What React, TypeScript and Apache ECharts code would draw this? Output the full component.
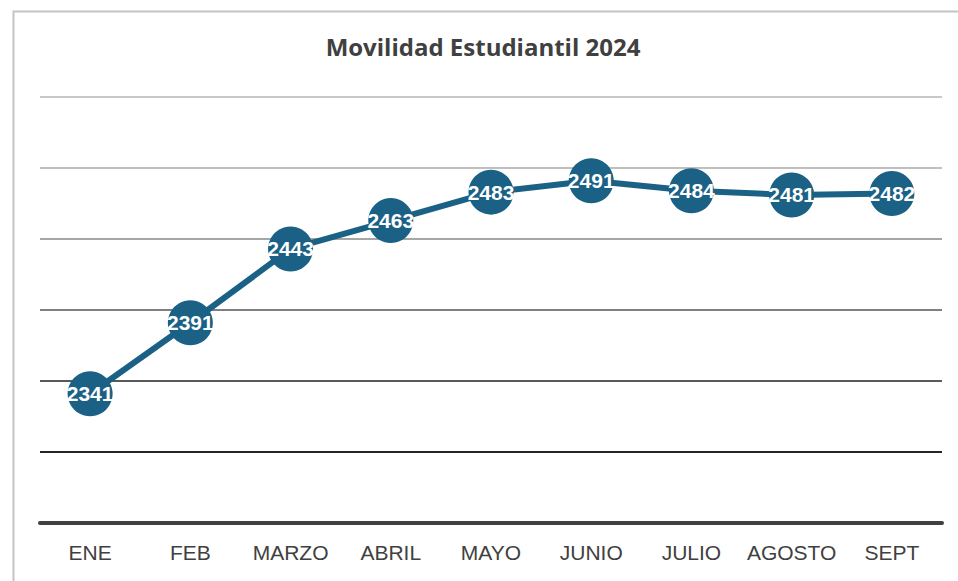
import React, { useEffect, useRef } from "react";
import * as echarts from "echarts";

const categories = ["ENE", "FEB", "MARZO", "ABRIL", "MAYO", "JUNIO", "JULIO", "AGOSTO", "SEPT"];
const values = [2341, 2391, 2443, 2463, 2483, 2491, 2484, 2481, 2482];
const yMin = 2250;
const yMax = 2550;
const yInterval = 50;
const title = "Movilidad Estudiantil 2024";

export default function App() {
  const ref = useRef<HTMLDivElement>(null);
  useEffect(() => {
    document.body.style.margin = "0";
    const chart = echarts.init(ref.current!, undefined, { renderer: "svg" });
    chart.setOption({
      animation: false,
      backgroundColor: "#ffffff",
      title: {
        text: title,
        left: 478,
        textAlign: "center",
        top: 29,
        textStyle: { fontFamily: "Open Sans", fontWeight: "bold", fontSize: 24, color: "#404040" },
      },
      graphic: [
        {
          type: "rect",
          left: 11,
          top: 9,
          shape: { x: 0, y: 0, width: 1000, height: 640 },
          style: { fill: "none", stroke: "#c4c4c4", lineWidth: 2 },
          silent: true,
        },
      ],
      grid: { left: 40, right: 16, top: 97, bottom: 58 },
      xAxis: {
        type: "category",
        data: categories,
        boundaryGap: true,
        axisLine: { lineStyle: { color: "#404040", width: 4 } },
        axisTick: { show: false },
        axisLabel: { interval: 0, fontSize: 21, color: "#404040", margin: 19, fontFamily: "Liberation Sans" },
      },
      yAxis: {
        type: "value",
        min: yMin,
        max: yMax,
        interval: yInterval,
        axisLabel: { show: false },
        axisLine: { show: false },
        axisTick: { show: false },
        splitLine: {
          lineStyle: {
            width: 2,
            color: ["#404040", "#262626", "#595959", "#808080", "#a6a6a6", "#bfbfbf", "#c8c8c8"],
          },
        },
      },
      series: [
        {
          type: "line",
          data: values,
          symbol: "circle",
          symbolSize: 45,
          lineStyle: { color: "#1b6185", width: 6 },
          itemStyle: { color: "#1b6185" },
          label: {
            show: true,
            position: "inside",
            color: "#ffffff",
            fontWeight: "bold",
            fontSize: 21,
            fontFamily: "Liberation Sans",
          },
        },
      ],
    });
    return () => chart.dispose();
  }, []);
  return <div ref={ref} style={{ position: "absolute", left: 0, top: 0, width: 958, height: 581 }} />;
}
